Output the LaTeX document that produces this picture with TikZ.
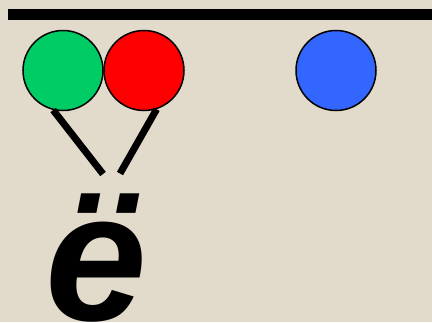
\documentclass[tikz,border=0pt]{standalone}
\usepackage{fontspec}
\setmainfont{Liberation Sans}
\definecolor{paper}{RGB}{226,218,203}
\definecolor{ballgreen}{RGB}{0,204,102}
\definecolor{ballred}{RGB}{255,0,0}
\definecolor{ballblue}{RGB}{51,102,255}
\tikzset{ball/.style={circle,draw=black,line width=1.5pt,minimum size=80pt,inner sep=0pt}}
\begin{document}
\begin{tikzpicture}[x=1pt,y=-1pt]
        \useasboundingbox (0,0) rectangle (432,322);\clip (0,0) rectangle (432,322);
        \fill[paper] (0,0) rectangle (432,322);
        \draw[line width=11pt] (8,14.5) -- (432,14.5);
        \node[ball,fill=ballgreen] (g) at (63,70.5) {};\node[ball,fill=ballred] (r) at (144,70.5) {};\node[ball,fill=ballblue] (b) at (336,70.5) {};
        \coordinate (gend) at (103,174);\coordinate (rend) at (120,173.5);
        \draw[line width=7pt] (g.-104) -- (gend);\draw[line width=7pt] (r.-72) -- (rend);
        \node[anchor=base,inner sep=0pt,font=\fontsize{183}{183}\selectfont\bfseries\itshape] (e) at (96,320) {ë};
     \end{tikzpicture}
\end{document}
